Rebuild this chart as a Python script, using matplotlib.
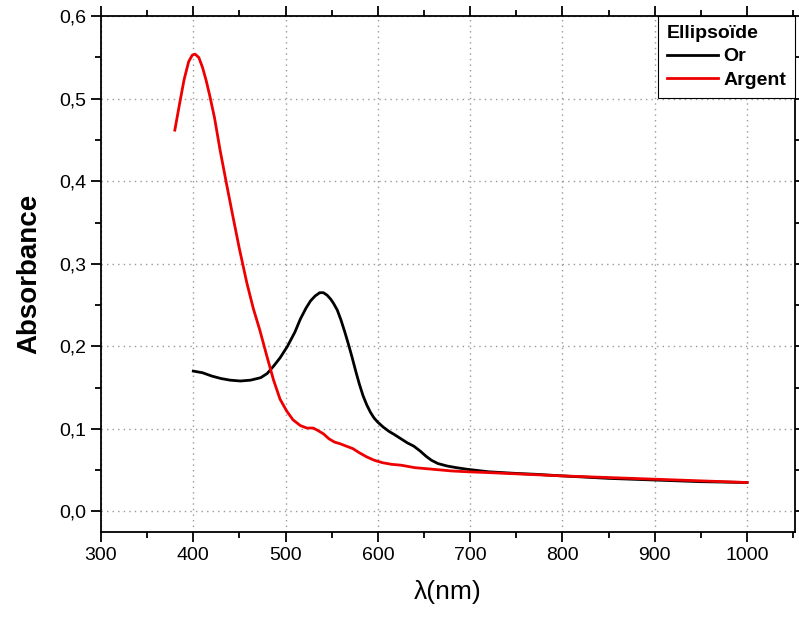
import matplotlib
matplotlib.use("Agg")
import matplotlib.pyplot as plt
from matplotlib.ticker import MultipleLocator, FuncFormatter

plt.rcParams['font.family'] = ['Liberation Sans', 'DejaVu Sans']

# Or (gold) spectrum
or_x = [400, 410, 420, 430, 440, 451, 462, 473, 480, 487, 494, 502, 510, 516, 522, 527, 532, 537, 541, 545, 549, 552, 556, 560, 564, 568, 572, 576, 580, 584, 588, 592, 596, 600, 606, 612, 618, 625, 632, 639, 646, 652, 658, 665, 675, 685, 697, 720, 750, 770, 800, 850, 900, 950, 1000]
or_y = [0.170, 0.168, 0.164, 0.161, 0.159, 0.158, 0.159, 0.162, 0.167, 0.176, 0.186, 0.200, 0.217, 0.233, 0.246, 0.255, 0.261, 0.265, 0.265, 0.262, 0.257, 0.252, 0.244, 0.232, 0.218, 0.203, 0.187, 0.170, 0.154, 0.140, 0.129, 0.120, 0.113, 0.108, 0.102, 0.097, 0.093, 0.088, 0.083, 0.079, 0.073, 0.067, 0.062, 0.058, 0.055, 0.053, 0.051, 0.048, 0.046, 0.045, 0.043, 0.040, 0.038, 0.036, 0.035]

# Argent (silver) spectrum
ag_x = [380, 385, 390, 395, 399, 402, 406, 410, 414, 418, 423, 429, 436, 443, 450, 458, 465, 472, 480, 487, 494, 501, 508, 516, 523, 530, 535, 541, 547, 553, 559, 566, 573, 580, 588, 596, 605, 615, 625, 640, 660, 680, 697, 720, 760, 800, 850, 900, 950, 1000]
ag_y = [0.462, 0.493, 0.523, 0.545, 0.553, 0.554, 0.550, 0.538, 0.522, 0.503, 0.477, 0.438, 0.397, 0.357, 0.318, 0.277, 0.246, 0.220, 0.187, 0.159, 0.136, 0.122, 0.111, 0.104, 0.101, 0.101, 0.098, 0.094, 0.088, 0.084, 0.082, 0.079, 0.076, 0.071, 0.066, 0.062, 0.059, 0.057, 0.056, 0.053, 0.051, 0.049, 0.048, 0.047, 0.045, 0.043, 0.041, 0.039, 0.037, 0.035]

fig = plt.figure(figsize=(7.99, 6.24), dpi=100)
ax = fig.add_axes([0.1264, 0.1474, 0.8686, 0.8266])

ax.plot(or_x, or_y, color='black', lw=2.0, label='Or')
ax.plot(ag_x, ag_y, color='#ee0000', lw=2.0, label='Argent')

ax.set_xlim(300, 1052)
ax.set_ylim(-0.025, 0.6)
ax.xaxis.set_major_locator(MultipleLocator(100))
ax.xaxis.set_minor_locator(MultipleLocator(50))
ax.yaxis.set_major_locator(MultipleLocator(0.1))
ax.yaxis.set_minor_locator(MultipleLocator(0.05))
ax.yaxis.set_major_formatter(FuncFormatter(lambda v, p: f"{v:.1f}".replace('.', ',').replace('-0,0', '0,0')))

ax.tick_params(which='both', direction='out', top=True, right=True, labeltop=False, labelright=False, width=1.3)
ax.tick_params(which='major', length=7, labelsize=14)
ax.tick_params(which='minor', length=4)
for s in ax.spines.values():
    s.set_linewidth(1.3)

ax.grid(True, which='major', color='#999999', linestyle=(0, (1, 3)), linewidth=1)

ax.set_xlabel('λ(nm)', fontsize=19, labelpad=12)
ax.set_ylabel('Absorbance', fontsize=20, fontweight='bold', labelpad=12)

leg = ax.legend(title='Ellipsoïde', loc='upper right', bbox_to_anchor=(1.0, 1.0),
                fancybox=False, framealpha=1, edgecolor='black', borderaxespad=0,
                prop={'weight': 'bold', 'size': 14}, handlelength=2.6, handletextpad=0.3,
                labelspacing=0.3, borderpad=0.45)
leg.get_title().set_fontweight('bold')
leg.get_title().set_fontsize(14)
leg.get_frame().set_linewidth(0.8)
leg._legend_box.align = 'left'

fig.savefig('out.png', dpi=100)
